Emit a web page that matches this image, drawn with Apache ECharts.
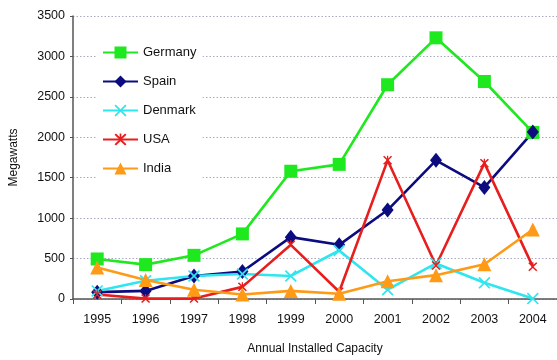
<!DOCTYPE html>
<html>
<head>
<meta charset="utf-8">
<script src="https://cdn.jsdelivr.net/npm/echarts@6/dist/echarts.min.js"></script>
<style>
  html, body { margin: 0; padding: 0; background: #fff; }
  #chart { width: 557px; height: 360px; }
</style>
</head>
<body>
<div id="chart"></div>
<script>
// Annual installed wind capacity (MW) by country
const years = ['1995', '1996', '1997', '1998', '1999', '2000', '2001', '2002', '2003', '2004'];
const germany = [495, 425, 540, 805, 1580, 1665, 2650, 3230, 2690, 2060];
const spain   = [85, 100, 285, 340, 765, 670, 1100, 1715, 1380, 2065];
const denmark = [100, 225, 285, 310, 285, 600, 115, 440, 200, 5];
const usa     = [55, 5, 5, 150, 670, 90, 1715, 415, 1680, 400];
const india   = [390, 235, 115, 55, 100, 65, 220, 295, 430, 860];
const yTicks  = { min: 0, max: 3500, step: 500 };

const FONT = '"Liberation Sans", Arial, Helvetica, sans-serif';

// filled X-shaped marker and an asterisk-like marker
const crossPath = 'path://M0,1L1,0L5,4L9,0L10,1L6,5L10,9L9,10L5,6L1,10L0,9L4,5Z';
const starPath = 'path://M0,1.2L1.2,0L4.3,3.1L4.3,0L5.7,0L5.7,3.1L8.8,0L10,1.2L5.9,5.3L10,9.4L8.8,10.6L5,6.8L1.2,10.6L0,9.4L4.1,5.3Z';

function lineSeries(name, data, color, symbol, size) {
  return {
    name: name,
    type: 'line',
    data: data,
    symbol: symbol,
    symbolSize: size,
    showAllSymbol: true,
    lineStyle: { color: color, width: 2.6 },
    itemStyle: { color: color },
    emphasis: { disabled: true }
  };
}

const chart = echarts.init(document.getElementById('chart'), null, { renderer: 'canvas' });
chart.setOption({
  animation: false,
  backgroundColor: '#ffffff',
  textStyle: { fontFamily: FONT },
  // plot area runs a few pixels past the right edge of the canvas
  grid: { left: 72, width: 490, top: 16, bottom: 54, containLabel: false },
  legend: {
    orient: 'vertical',
    left: 97,
    top: 38,
    padding: [8, 6, 8, 5],
    backgroundColor: '#ffffff',
    itemWidth: 35,
    itemHeight: 15,
    itemGap: 16,
    textStyle: { fontFamily: FONT, fontSize: 13, color: '#111' },
    data: ['Germany', 'Spain', 'Denmark', 'USA', 'India']
  },
  xAxis: {
    type: 'category',
    data: years,
    boundaryGap: true,
    name: 'Annual Installed Capacity',
    nameLocation: 'middle',
    nameGap: 44,
    nameTextStyle: { fontFamily: FONT, fontSize: 12, color: '#111' },
    axisLine: { lineStyle: { color: '#555', width: 1.5 } },
    axisTick: { show: true, length: 5, lineStyle: { color: '#555' } },
    axisLabel: { fontFamily: FONT, fontSize: 12.5, color: '#111', margin: 14 },
    splitLine: { show: false }
  },
  yAxis: {
    type: 'value',
    min: yTicks.min,
    max: yTicks.max,
    interval: yTicks.step,
    name: 'Megawatts',
    nameLocation: 'middle',
    nameRotate: 90,
    nameGap: 53,
    nameTextStyle: { fontFamily: FONT, fontSize: 12, color: '#111' },
    axisLine: { show: true, lineStyle: { color: '#555', width: 1.5 } },
    axisTick: { show: true, length: 3, lineStyle: { color: '#555' } },
    axisLabel: {
      fontFamily: FONT, fontSize: 12.5, color: '#111', margin: 8,
      formatter: function (v) { return String(v); }
    },
    splitLine: { show: true, lineStyle: { color: '#a9a9c4', type: [1.5, 2], width: 1 } }
  },
  series: [
    lineSeries('Germany', germany, '#1ee81e', 'rect', 13),
    lineSeries('Spain', spain, '#0c0c80', 'diamond', [12, 15]),
    lineSeries('Denmark', denmark, '#2ee6ee', crossPath, 12),
    lineSeries('USA', usa, '#e81e1e', starPath, 9),
    lineSeries('India', india, '#ff9a16', 'triangle', 14)
  ]
});
</script>
</body>
</html>
